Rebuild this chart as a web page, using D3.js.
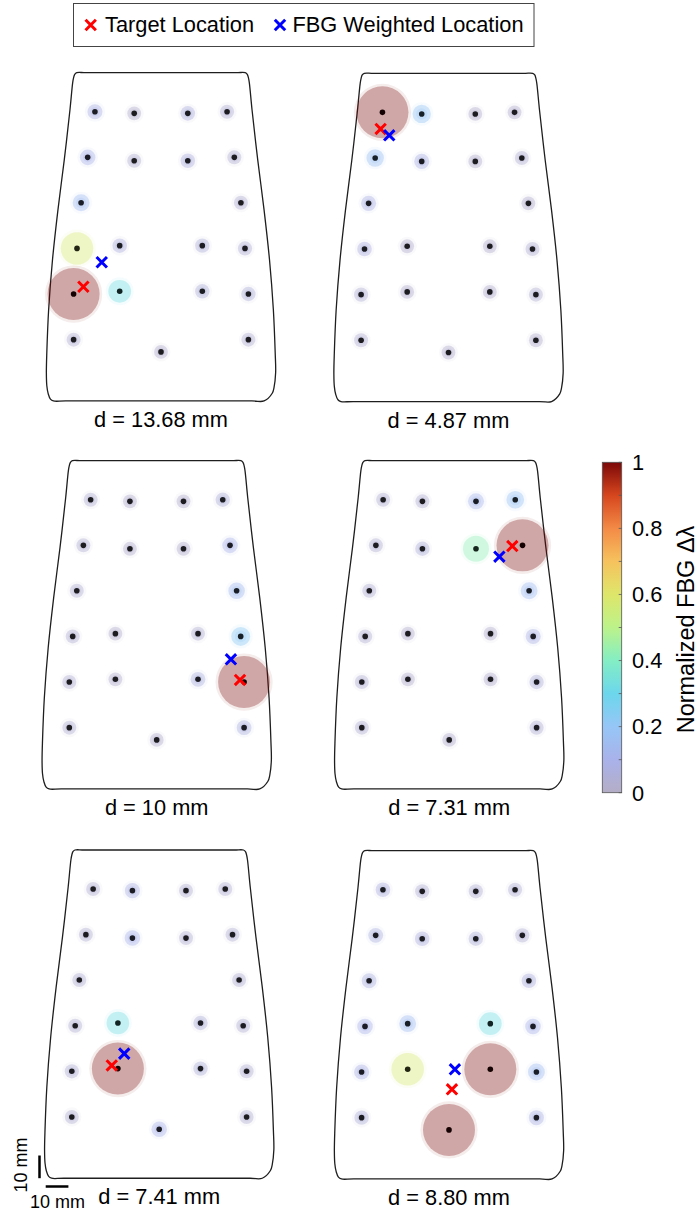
<!DOCTYPE html>
<html>
<head>
<meta charset="utf-8">
<script src="https://cdn.jsdelivr.net/npm/d3@7"></script>
<style>
  html, body { margin: 0; padding: 0; background: #fff; }
  svg { display: block; font-family: "Liberation Sans", Arial, Helvetica, sans-serif; }
</style>
</head>
<body>
<svg id="chart" width="698" height="1215"></svg>
<script>
// ---- sensor layout (mm, origin at top-centre of the skin patch) ----
const sensorX = [-29.1, -11.8, 11.8, 29.1,
                 -32.3, -11.8, 11.8, 32.3,
                 -35.2, 35.2,
                 -37.0, -18.2, 18.2, 37.0,
                 -38.5, -18.2, 18.2, 38.5,
                 -38.5, 0.0, 38.5];
const sensorY = [17.2, 17.9, 17.9, 17.2,
                 37.3, 38.8, 38.8, 37.3,
                 57.3, 57.3,
                 77.4, 76.2, 76.2, 77.4,
                 97.5, 96.3, 96.3, 97.5,
                 117.6, 123.0, 117.6];

// ---- patch outline (mm) ----
const outlineX = [-33, -37.1, -38.0, -38.5, -38.9, -40.1, -42.6, -45.4, -47.8, -49.5, -50.3, -50.5,
                  -50.3, -49.7, -48.7, -47.4, -42,
                  40, 45.4, 49.0, 49.8, 50.5,
                  50.3, 49.5, 47.8, 45.4, 42.6, 40.1, 38.9, 38.5, 38.0, 37.1, 33];
const outlineY = [0, 0, 0.7, 2.2, 4.4, 16.3, 38.3, 60.4, 82.4, 104.4, 123.3, 132.2,
                  137.9, 141.4, 143.8, 144.6, 144.6,
                  144.6, 144.6, 141.2, 138.6, 132.2,
                  123.3, 104.4, 82.4, 60.4, 38.3, 16.3, 4.4, 2.2, 0.7, 0, 0];

// ---- normalized FBG response per trial ----
const trialLabels = ["d = 13.68 mm", "d = 4.87 mm", "d = 10 mm", "d = 7.31 mm", "d = 7.41 mm", "d = 8.80 mm"];
const trial1 = [0.08, 0.02, 0.06, 0.04, 0.10, 0.03, 0.06, 0.03, 0.15, 0.03, 0.58, 0.06, 0.05, 0.04, 1.00, 0.33, 0.05, 0.05, 0.03, 0.02, 0.03];
const trial2 = [1.00, 0.20, 0.02, 0.02, 0.17, 0.08, 0.02, 0.03, 0.08, 0.02, 0.06, 0.02, 0.02, 0.03, 0.04, 0.02, 0.02, 0.03, 0.03, 0.02, 0.02];
const trial3 = [0.03, 0.02, 0.02, 0.05, 0.03, 0.02, 0.02, 0.10, 0.03, 0.14, 0.03, 0.02, 0.03, 0.22, 0.03, 0.02, 0.07, 1.00, 0.03, 0.02, 0.07];
const trial4 = [0.03, 0.03, 0.12, 0.18, 0.03, 0.05, 0.42, 1.00, 0.03, 0.15, 0.03, 0.02, 0.02, 0.08, 0.03, 0.02, 0.02, 0.05, 0.03, 0.02, 0.04];
const trial5 = [0.03, 0.08, 0.03, 0.03, 0.03, 0.10, 0.03, 0.03, 0.03, 0.03, 0.03, 0.33, 0.05, 0.03, 0.04, 1.00, 0.05, 0.03, 0.03, 0.10, 0.03];
const trial6 = [0.06, 0.04, 0.04, 0.04, 0.07, 0.06, 0.05, 0.04, 0.07, 0.06, 0.10, 0.15, 0.33, 0.10, 0.08, 0.58, 1.00, 0.15, 0.05, 1.00, 0.08];
const trialValues = [trial1, trial2, trial3, trial4, trial5, trial6];

// target and FBG-weighted locations (mm)
const targetX = [-34.2, -29.9, 36.7, 27.8, -20.9, 1.3];
const targetY = [94.3, 24.5, 96.6, 37.6, 94.9, 105.1];
const weightedX = [-26.1, -26.1, 32.7, 22.1, -15.4, 2.6];
const weightedY = [83.5, 27.3, 87.5, 42.3, 89.7, 96.3];

// colour bar
const colorbarTicks = [0, 0.2, 0.4, 0.6, 0.8, 1];
const colorStops = [0, 0.1, 0.2, 0.3, 0.4, 0.5, 0.6, 0.7, 0.8, 0.9, 1.0];
const colorValues = ["#b4adc6", "#a9b2ea", "#96c6f6", "#6cd6ec", "#84eec4", "#bcf28a", "#dee66a", "#f6c25e", "#f38a46", "#d6461e", "#7c0808"];

// ---- layout ----
const pxPerMm = 2.27;
const panelCX = [161, 448.5, 156.7, 449.2, 159.2, 449];
const panelTop = [72.7, 73.3, 460.7, 460.7, 850, 850.7];
const fontSize = 21.8;

const svg = d3.select("#chart");
const color = d3.scaleLinear().domain(colorStops).range(colorValues).clamp(true);
const radius = d3.scalePow().exponent(1.3).domain([0, 1]).range([6.8, 26]);
const haloOpacity = d3.scaleLinear().domain([0, 1]).range([0.42, 0.3]);

function drawCross(g, cx, cy, col) {
  const s = 5.2;
  g.append("path")
    .attr("d", `M${cx - s},${cy - s}L${cx + s},${cy + s}M${cx - s},${cy + s}L${cx + s},${cy - s}`)
    .attr("stroke", col).attr("stroke-width", 3).attr("fill", "none");
}

trialValues.forEach((vals, p) => {
  const x = d3.scaleLinear().domain([0, 10]).range([panelCX[p], panelCX[p] + 10 * pxPerMm]);
  const y = d3.scaleLinear().domain([0, 10]).range([panelTop[p], panelTop[p] + 10 * pxPerMm]);
  const g = svg.append("g").attr("class", "panel");

  const outline = d3.line()
    .x(d => x(d[0])).y(d => y(d[1]))
    .curve(d3.curveCatmullRomClosed.alpha(0.5));
  g.append("path")
    .attr("d", outline(d3.zip(outlineX, outlineY)))
    .attr("fill", "#fff").attr("stroke", "#1e1e1e").attr("stroke-width", 1.3);

  const sensors = d3.zip(sensorX, sensorY, vals).map(d => ({ x: d[0], y: d[1], v: d[2] }));

  // response halos
  const halo = g.selectAll("g.halo").data(sensors).join("g").attr("class", "halo");
  halo.append("circle")
    .attr("cx", d => x(d.x)).attr("cy", d => y(d.y))
    .attr("r", d => radius(d.v) + 2.6)
    .attr("fill", d => color(d.v)).attr("fill-opacity", 0.08);
  halo.append("circle")
    .attr("cx", d => x(d.x)).attr("cy", d => y(d.y))
    .attr("r", d => radius(d.v))
    .attr("fill", d => color(d.v)).attr("fill-opacity", d => haloOpacity(d.v));
  halo.append("circle")
    .attr("cx", d => x(d.x)).attr("cy", d => y(d.y))
    .attr("r", d => d.v < 0.3 ? radius(d.v) * 0.62 : 0)
    .attr("fill", d => color(d.v)).attr("fill-opacity", 0.22);

  // sensor dots, tinted by the halo colour
  g.selectAll("circle.dot").data(sensors).join("circle")
    .attr("class", "dot")
    .attr("cx", d => x(d.x)).attr("cy", d => y(d.y))
    .attr("r", 2.8).attr("fill", d => d3.interpolateRgb("#000", color(d.v))(0.16));

  drawCross(g, x(targetX[p]), y(targetY[p]), "#ff0000");
  drawCross(g, x(weightedX[p]), y(weightedY[p]), "#0000ff");

  g.append("text")
    .attr("x", panelCX[p]).attr("y", y(144.6) + 26)
    .attr("text-anchor", "middle").attr("font-size", fontSize)
    .text(trialLabels[p]);
});

// ---- legend ----
const legend = svg.append("g");
legend.append("rect").attr("x", 73.5).attr("y", 3.5).attr("width", 460.5).attr("height", 43)
  .attr("fill", "#fff").attr("stroke", "#444").attr("stroke-width", 1);
drawCross(legend, 90.7, 25, "#ff0000");
legend.append("text").attr("x", 105).attr("y", 32).attr("font-size", fontSize).text("Target Location");
drawCross(legend, 280, 25, "#0000ff");
legend.append("text").attr("x", 292.5).attr("y", 32).attr("font-size", fontSize).text("FBG Weighted Location");

// ---- colour bar ----
const cbX = 602.3, cbW = 19.4, cbTop = 462.3, cbBottom = 792.7;
const cbScale = d3.scaleLinear().domain([0, 1]).range([cbBottom, cbTop]);
const defs = svg.append("defs");
const grad = defs.append("linearGradient").attr("id", "cbGrad")
  .attr("x1", 0).attr("y1", 1).attr("x2", 0).attr("y2", 0);
d3.range(0, 1.0001, 0.02).forEach(t => {
  grad.append("stop").attr("offset", t).attr("stop-color", color(t));
});
svg.append("rect").attr("x", cbX).attr("y", cbTop).attr("width", cbW).attr("height", cbBottom - cbTop)
  .attr("fill", "url(#cbGrad)").attr("stroke", "#555").attr("stroke-width", 0.8);
const minorTicks = d3.range(0, 1.0001, 0.1);
svg.append("g").selectAll("line").data(minorTicks).join("line")
  .attr("x1", cbX + cbW - 3).attr("x2", cbX + cbW)
  .attr("y1", d => cbScale(d)).attr("y2", d => cbScale(d))
  .attr("stroke", "#555").attr("stroke-width", 0.8);
svg.append("g").selectAll("text").data(colorbarTicks).join("text")
  .attr("x", 632).attr("y", d => cbScale(d) + 7.8)
  .attr("font-size", fontSize)
  .text(d => d3.format("")(d));
svg.append("text")
  .attr("transform", `translate(694,${(cbTop + cbBottom) / 2 + 2}) rotate(-90)`)
  .attr("text-anchor", "middle").attr("font-size", 23.5)
  .text("Normalized FBG Δλ");

// ---- scale bars (10 mm) ----
const sb = svg.append("g");
const sbLen = 10 * pxPerMm;
sb.append("line").attr("x1", 39.5).attr("x2", 39.5).attr("y1", 1155.5).attr("y2", 1155.5 + sbLen)
  .attr("stroke", "#000").attr("stroke-width", 2.5);
sb.append("line").attr("x1", 45.7).attr("x2", 45.7 + sbLen).attr("y1", 1186.5).attr("y2", 1186.5)
  .attr("stroke", "#000").attr("stroke-width", 2.5);
sb.append("text").attr("transform", "translate(27,1165) rotate(-90)")
  .attr("text-anchor", "middle").attr("font-size", 18).text("10 mm");
sb.append("text").attr("x", 30).attr("y", 1208).attr("font-size", 18).text("10 mm");
</script>
</body>
</html>
